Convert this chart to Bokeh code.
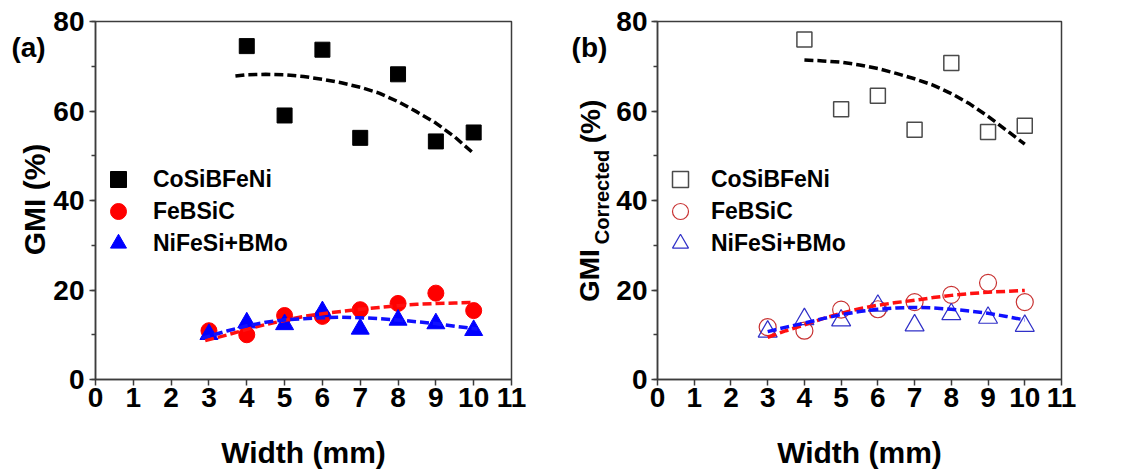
from math import pi
from bokeh.plotting import figure
from bokeh.models import Range1d, SingleIntervalTicker, Legend, LegendItem
from bokeh.core.properties import value
from bokeh.layouts import row
from bokeh.embed import file_html
from bokeh.resources import INLINE

# ---------------- data ----------------
widths = [3, 4, 5, 6, 7, 8, 9, 10]
widths_co = [4, 5, 6, 7, 8, 9, 10]
series_names = ["CoSiBFeNi", "FeBSiC", "NiFeSi+BMo"]

# panel (a): GMI (%)
gmi_co = [74.5, 59.0, 73.7, 54.0, 68.2, 53.2, 55.2]
gmi_fe = [10.9, 10.0, 14.3, 14.1, 15.6, 17.0, 19.3, 15.4]
gmi_ni = [10.1, 12.7, 12.3, 15.2, 11.3, 13.3, 12.5, 11.0]

fit_a_co_x = [3.7, 4.0, 4.5, 5.0, 5.5, 6.0, 6.5, 7.0, 7.5, 8.0, 8.5, 9.0, 9.5, 10.0]
fit_a_co_y = [67.8, 68.1, 68.2, 68.1, 67.7, 67.1, 66.3, 65.3, 64.0, 62.1, 59.8, 57.3, 54.2, 50.5]
fit_a_fe_x = [2.9, 3.5, 4.0, 4.5, 5.0, 5.5, 6.0, 6.5, 7.0, 7.5, 8.0, 8.5, 9.0, 9.5, 10.0]
fit_a_fe_y = [8.7, 10.0, 11.2, 12.3, 13.2, 14.1, 14.7, 15.2, 15.7, 16.1, 16.5, 16.8, 17.0, 17.1, 17.2]
fit_a_ni_x = [2.8, 3.5, 4.0, 4.5, 5.0, 5.5, 6.0, 6.5, 7.0, 7.5, 8.0, 8.5, 9.0, 9.5, 10.1]
fit_a_ni_y = [9.2, 10.9, 12.0, 12.8, 13.3, 13.6, 13.8, 13.9, 13.8, 13.6, 13.3, 12.9, 12.5, 11.9, 11.3]

# panel (b): GMI corrected (%)
gmic_co = [76.0, 60.4, 63.4, 55.8, 70.7, 55.3, 56.7]
gmic_fe = [11.7, 10.9, 15.6, 15.7, 17.3, 18.9, 21.6, 17.3]
gmic_ni = [10.7, 13.5, 13.2, 16.5, 12.1, 14.6, 13.8, 12.0]

fit_b_co_x = [4.0, 4.5, 5.0, 5.5, 6.0, 6.5, 7.0, 7.5, 8.0, 8.5, 9.0, 9.5, 10.0]
fit_b_co_y = [71.4, 71.2, 70.9, 70.3, 69.5, 68.4, 67.2, 65.8, 63.9, 61.6, 58.8, 55.7, 52.6]
fit_b_fe_x = [3.0, 3.5, 4.0, 4.5, 5.0, 5.5, 6.0, 6.5, 7.0, 7.5, 8.0, 8.5, 9.0, 9.5, 10.0]
fit_b_fe_y = [9.4, 10.9, 12.2, 13.6, 14.8, 15.8, 16.6, 17.2, 17.7, 18.3, 18.8, 19.2, 19.5, 19.7, 19.9]
fit_b_ni_x = [3.0, 3.5, 4.0, 4.5, 5.0, 5.5, 6.0, 6.5, 7.0, 7.5, 8.0, 8.5, 9.0, 9.5, 10.0]
fit_b_ni_y = [10.7, 11.7, 12.6, 13.6, 14.5, 15.2, 15.7, 16.0, 16.1, 16.0, 15.7, 15.3, 14.8, 14.1, 13.3]

x_ticks_interval = 1
y_ticks_interval = 20

FONT = "Liberation Sans"
AX = "#3c3c3c"
H = 471
TOP, BOTTOM = 21, 90


def make_fig(width, border_left, border_right, ylab_standoff):
    p = figure(width=width, height=H, x_range=Range1d(0, 11), y_range=Range1d(0, 80),
               output_backend="svg", toolbar_location=None,
               min_border_left=border_left, min_border_right=border_right,
               min_border_top=TOP, min_border_bottom=BOTTOM)
    p.grid.visible = False
    p.outline_line_color = AX
    p.outline_line_width = 1.5
    p.background_fill_color = "white"
    p.border_fill_color = "white"
    p.xaxis.ticker = SingleIntervalTicker(interval=x_ticks_interval, num_minor_ticks=0)
    p.yaxis.ticker = SingleIntervalTicker(interval=y_ticks_interval, num_minor_ticks=2)
    for ax in (p.xaxis, p.yaxis):
        ax.axis_line_color = AX
        ax.axis_line_width = 1.5
        ax.major_tick_line_color = AX
        ax.major_tick_line_width = 1.5
        ax.minor_tick_line_color = AX
        ax.minor_tick_line_width = 1.5
        ax.major_tick_in = 0
        ax.major_tick_out = 6
        ax.minor_tick_in = 0
        ax.minor_tick_out = 4
        ax.major_label_text_font = FONT
        ax.major_label_text_font_style = "bold"
        ax.major_label_text_font_size = "28px"
        ax.major_label_text_color = "black"
        ax.axis_label_text_font = FONT
        ax.axis_label_text_font_style = "bold"
        ax.axis_label_text_font_size = "30px"
        ax.axis_label_text_color = "black"
    p.xaxis.major_label_standoff = 2
    p.yaxis.major_label_standoff = ylab_standoff
    p.xaxis.axis_label = "Width (mm)"
    p.xaxis.axis_label_standoff = 26
    return p


def make_side(width):
    # narrow strip left of each panel holding the panel tag and the y-axis title;
    # its frame is aligned with the panel frame (rows align frames), so the y range
    # is chosen such that data y == page height - page pixel y.
    s = figure(width=width, height=H, x_range=Range1d(0, width),
               y_range=Range1d(BOTTOM, H - TOP),
               output_backend="svg", toolbar_location=None, title=None,
               x_axis_location=None, y_axis_location=None,
               min_border_left=0, min_border_right=0,
               min_border_top=TOP, min_border_bottom=BOTTOM)
    s.grid.visible = False
    s.outline_line_color = None
    s.background_fill_color = "white"
    s.border_fill_color = "white"
    return s


def side_text(s, x, y, txt, size, angle=0.0):
    # x, y: centre of the text in page pixels (y from the top)
    s.text(x=[x], y=[H - y], text=[txt], angle=angle, text_font=value(FONT),
           text_font_style="bold", text_font_size=value(size), text_color="black",
           text_align="center", text_baseline="middle")


def add_legend(p, renderers, standoff, ys):
    # one single-row legend per series, so row pitch can be set freely
    for n, r, y in zip(series_names, renderers, ys):
        lg = Legend(items=[LegendItem(label=n, renderers=[r])], location=(3, y),
                    glyph_width=40, glyph_height=40, label_height=40,
                    padding=0, margin=0, label_standoff=standoff,
                    border_line_color=None, background_fill_alpha=0,
                    label_text_font=FONT, label_text_font_style="bold",
                    label_text_font_size="23px", label_text_color="black")
        p.add_layout(lg)


# ---------------- panel (a) ----------------
sa = make_side(50)
side_text(sa, 28, 47.5, "(a)", "28px")
side_text(sa, 33.5, 200, "GMI (%)", "30px", angle=pi / 2)

pa = make_fig(510, 44, 49, 5)
ra1 = pa.scatter(widths_co, gmi_co, marker="square", size=15, fill_color="black", line_color="black")
ra2 = pa.scatter(widths, gmi_fe, marker="circle", size=16, fill_color="#ff0000", line_color="#ff0000")
ra3 = pa.scatter(widths, gmi_ni, marker="triangle", size=18, fill_color="#0000ff", line_color="#0000ff")
pa.line(fit_a_fe_x, fit_a_fe_y, line_color="#ff1010", line_width=3.5, line_dash="9 4")
pa.line(fit_a_ni_x, fit_a_ni_y, line_color="#1010ff", line_width=3.5, line_dash="9 4")
pa.line(fit_a_co_x, fit_a_co_y, line_color="black", line_width=3.5, line_dash="9 4")
add_legend(pa, [ra1, ra2, ra3], 15, [180, 148, 116])

# ---------------- panel (b) ----------------
sb = make_side(53)
side_text(sb, 29, 47.5, "(b)", "28px")
side_text(sb, 29, 276.5, "GMI", "28px", angle=pi / 2)
side_text(sb, 41.5, 197.5, "Corrected", "20px", angle=pi / 2)
side_text(sb, 30, 121.5, "(%)", "28px", angle=pi / 2)

pb = make_fig(522, 41, 74, 4)
rb1 = pb.scatter(widths_co, gmic_co, marker="square", size=15, fill_color=None, line_color="#4a4a4a", line_width=1.5)
rb2 = pb.scatter(widths, gmic_fe, marker="circle", size=17, fill_color=None, line_color="#c83232", line_width=1.2)
rb3 = pb.scatter(widths, gmic_ni, marker="triangle", size=19, fill_color=None, line_color="#3030c8", line_width=1.2)
pb.line(fit_b_fe_x, fit_b_fe_y, line_color="#ff1010", line_width=3.5, line_dash="9 4")
pb.line(fit_b_ni_x, fit_b_ni_y, line_color="#1010ff", line_width=3.5, line_dash="9 4")
pb.line(fit_b_co_x, fit_b_co_y, line_color="black", line_width=3.5, line_dash="9 4")
add_legend(pb, [rb1, rb2, rb3], 11, [180, 148, 116])

layout = row(sa, pa, sb, pb)
open("out.html", "w").write(file_html(layout, INLINE))
